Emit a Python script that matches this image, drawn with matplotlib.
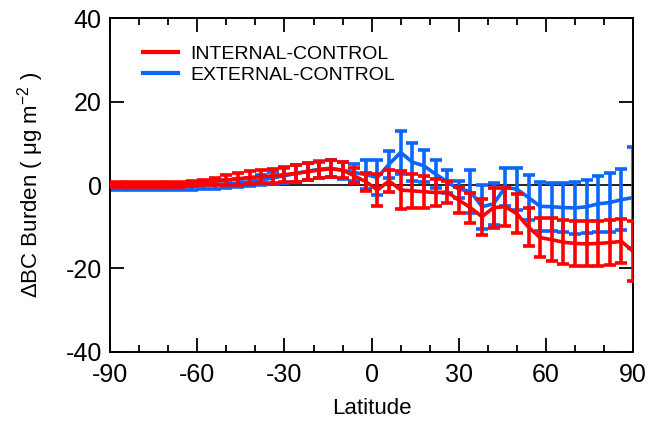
import matplotlib
matplotlib.use("Agg")
import matplotlib.pyplot as plt
from matplotlib.lines import Line2D
from matplotlib.ticker import MultipleLocator

plt.rcParams['font.family'] = ['Liberation Sans', 'DejaVu Sans']
plt.rcParams['axes.unicode_minus'] = False
plt.rcParams['mathtext.default'] = 'regular'

# latitude bands (4 degree grid)
lat = [-90, -86, -82, -78, -74, -70, -66, -62, -58, -54, -50, -46, -42, -38, -34, -30,
       -26, -22, -18, -14, -10, -6, -2, 2, 6, 10, 14, 18, 22, 26, 30, 34,
       38, 42, 46, 50, 54, 58, 62, 66, 70, 74, 78, 82, 86, 90]

# INTERNAL-CONTROL
internal = [0.2, 0.2, 0.1, 0.1, 0.1, 0.1, 0.2, 0.4, 0.6, 0.9, 1.2, 1.5, 1.8, 2.0, 2.2, 2.5,
            2.8, 3.2, 3.6, 3.9, 3.6, 2.2, 0.8, -1.2, 1.0, -1.2, -1.4, -1.6, -1.8, -1.7, -3.6, -5.4,
            -7.6, -5.4, -5.2, -6.9, -10.1, -12.6, -13.1, -13.7, -14.0, -14.1, -14.0, -13.8, -13.5, -15.9]
internal_err = [0.6, 0.6, 0.6, 0.6, 0.6, 0.6, 0.6, 0.6, 0.7, 0.9, 1.1, 1.4, 1.5, 1.6, 1.7, 1.8,
                2.0, 2.0, 2.0, 2.0, 2.0, 1.8, 2.2, 3.8, 2.6, 4.6, 4.0, 3.8, 3.2, 2.7, 3.1, 3.6,
                4.3, 4.8, 4.6, 4.7, 4.6, 4.7, 5.1, 5.3, 5.4, 5.4, 5.4, 5.4, 5.3, 7.2]

# EXTERNAL-CONTROL
external = [-0.5, -0.5, -0.5, -0.5, -0.5, -0.5, -0.4, -0.3, -0.1, 0.1, 0.3, 0.5, 0.8, 1.2, 1.7, 2.2,
            2.8, 3.3, 3.8, 4.0, 3.5, 3.0, 2.5, 1.8, 5.0, 7.8, 5.5, 4.6, 2.6, 0.8, -1.0, -1.5,
            -5.2, -4.5, -0.5, -1.0, -3.0, -5.1, -5.2, -5.4, -5.5, -5.2, -4.5, -4.2, -3.5, -3.0]
external_err = [0.8, 0.8, 0.8, 0.8, 0.8, 0.8, 0.8, 0.8, 0.9, 1.0, 1.0, 1.0, 1.0, 1.2, 1.5, 1.8,
                2.0, 2.0, 2.0, 2.0, 2.0, 2.0, 3.5, 4.2, 3.2, 5.2, 4.5, 3.8, 3.4, 2.8, 2.0, 5.2,
                5.3, 5.0, 4.6, 5.0, 5.4, 5.9, 5.8, 5.8, 6.2, 6.3, 6.7, 7.0, 7.3, 12.0]

red = '#FF0000'
blue = '#0A66FF'

fig = plt.figure(figsize=(6.48, 4.21), dpi=100)
ax = fig.add_axes([0.170, 0.164, 0.807, 0.793])

ax.axhline(0, color='black', linewidth=1.2, zorder=1)

ax.errorbar(lat, external, yerr=external_err, color=blue, linewidth=2.6,
            elinewidth=2.6, capsize=4, capthick=2.6, zorder=2)
ax.errorbar(lat, internal, yerr=internal_err, color=red, linewidth=2.6,
            elinewidth=2.6, capsize=4, capthick=2.6, zorder=3)

ax.set_xlim(-90, 90)
ax.set_ylim(-40, 40)
ax.xaxis.set_major_locator(MultipleLocator(30))
ax.xaxis.set_minor_locator(MultipleLocator(10))
ax.yaxis.set_major_locator(MultipleLocator(20))

ax.tick_params(axis='both', which='both', direction='in', top=True, right=True, width=1.3)
ax.tick_params(axis='both', which='major', length=10, labelsize=18)
ax.tick_params(axis='x', which='major', pad=8)
ax.tick_params(axis='y', which='major', pad=6)
ax.tick_params(axis='x', which='minor', length=5)
for s in ax.spines.values():
    s.set_linewidth(1.4)

ax.set_xlabel('Latitude', fontsize=16, labelpad=8)
ax.set_ylabel('\u0394BC Burden ( \u03bcg m$^{-2}$ )', fontsize=16, labelpad=14)

handles = [Line2D([], [], color=red, linewidth=3),
           Line2D([], [], color=blue, linewidth=3)]
ax.legend(handles, ['INTERNAL-CONTROL', 'EXTERNAL-CONTROL'], loc='upper left',
          bbox_to_anchor=(0.03, 0.97), frameon=False, fontsize=14, handlelength=1.8,
          handletextpad=0.6, labelspacing=0.15)

fig.savefig('out.png', dpi=100)
